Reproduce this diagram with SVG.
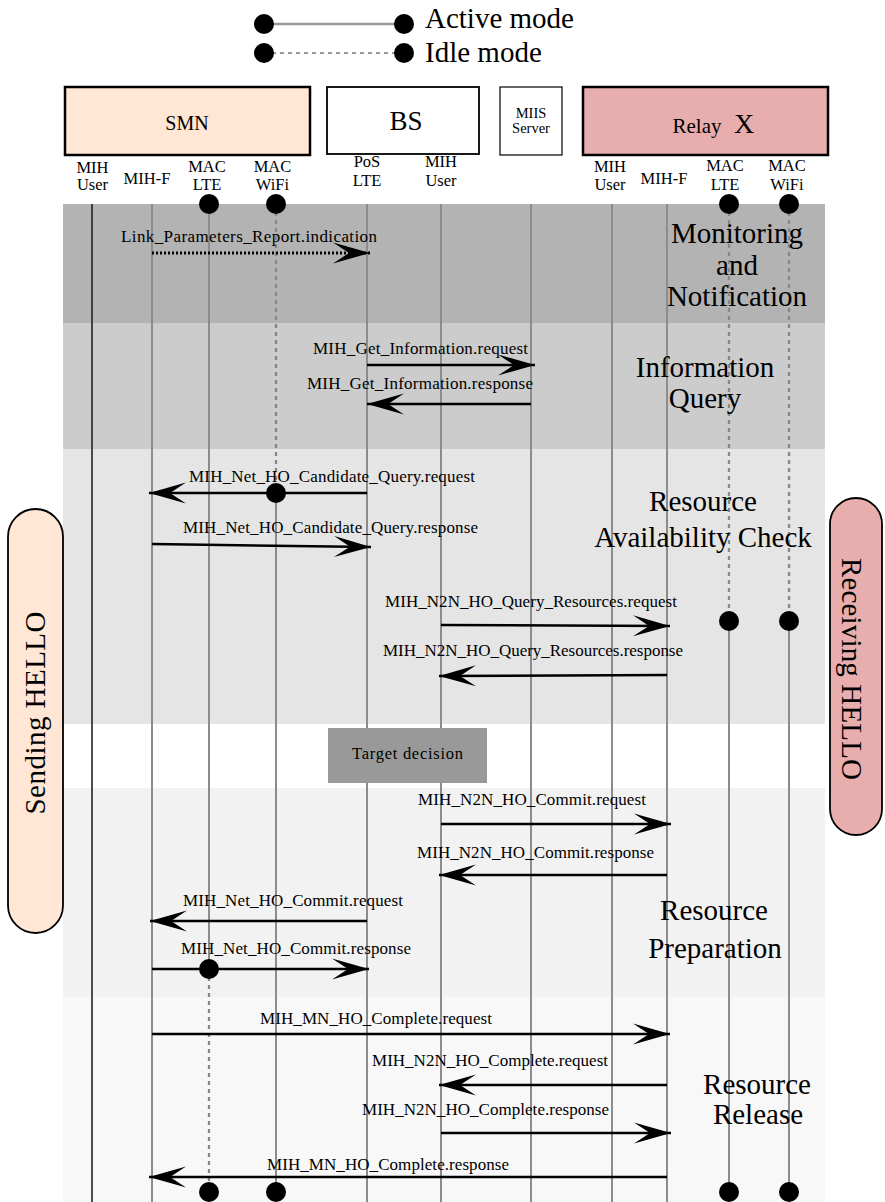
<svg xmlns="http://www.w3.org/2000/svg" width="885" height="1202" viewBox="0 0 885 1202">
<style>
text{font-family:"Liberation Serif","Times New Roman",serif;fill:#000}
.lg{font-size:29px}
.hd{font-size:16.5px;text-anchor:middle}
.msg{font-size:17px;text-anchor:middle}
.sec{font-size:29px;text-anchor:middle}
.life{stroke:#8c8c8c;stroke-width:2;fill:none}
.idle{stroke:#888;stroke-width:2.3;stroke-dasharray:4 4;fill:none}
.arr{stroke:#000;stroke-width:2.5;fill:none;marker-end:url(#stealth)}
.dotted{stroke:#000;stroke-width:3;stroke-dasharray:2 2;fill:none;marker-end:url(#stealth)}
.dot{fill:#000}
.box{stroke:#000}
</style>
<defs>
<marker id="stealth" markerUnits="userSpaceOnUse" viewBox="-38 -12 40 24" refX="0" refY="0" markerWidth="40" markerHeight="24" orient="auto">
<path d="M0,0 L-37,-10.5 L-21,0 L-37,10.5 Z" fill="#000"/>
</marker>
</defs>

<g id="legend">
<line x1="264" y1="24" x2="404" y2="24" stroke="#999" stroke-width="2.5"/>
<circle class="dot" cx="264" cy="24" r="10"/>
<circle class="dot" cx="404" cy="24" r="10"/>
<text class="lg" x="425" y="28">Active mode</text>
<line x1="264" y1="53" x2="404" y2="53" stroke="#999" stroke-width="2.2" stroke-dasharray="4 4"/>
<circle class="dot" cx="264" cy="53" r="10"/>
<circle class="dot" cx="404" cy="53" r="10"/>
<text class="lg" x="425" y="62">Idle mode</text>
</g>

<g id="phases">
<rect x="63" y="204" width="762" height="119" fill="#b3b3b3"/>
<rect x="63" y="323" width="762" height="126" fill="#cccccc"/>
<rect x="63" y="449" width="762" height="275" fill="#e5e5e5"/>
<rect x="63" y="788" width="762" height="209" fill="#f2f2f2"/>
<rect x="63" y="997" width="762" height="205" fill="#f8f8f8"/>
</g>

<g id="node-smn">
<rect class="box" x="65" y="87" width="245" height="68" fill="#ffe6d5" stroke-width="2.5"/>
<text x="187" y="130" font-size="20" text-anchor="middle">SMN</text>
<text class="hd" x="92.5" y="173">MIH</text><text class="hd" x="92.5" y="190">User</text>
<text class="hd" x="147" y="184">MIH-F</text>
<text class="hd" x="207" y="172">MAC</text><text class="hd" x="207" y="190">LTE</text>
<text class="hd" x="272.5" y="172">MAC</text><text class="hd" x="272.5" y="190">WiFi</text>
</g>

<g id="node-bs">
<rect class="box" x="327" y="87" width="152" height="67" fill="#fff" stroke-width="1.8"/>
<text x="406" y="130" font-size="27" text-anchor="middle">BS</text>
<text class="hd" x="367" y="167">PoS</text><text class="hd" x="367" y="186">LTE</text>
<text class="hd" x="441" y="167">MIH</text><text class="hd" x="441" y="186">User</text>
</g>

<g id="node-miis">
<rect class="box" x="500" y="87" width="62" height="68" fill="#fff" stroke-width="1.2"/>
<text x="531" y="118" font-size="14.5" text-anchor="middle">MIIS</text>
<text x="531" y="133" font-size="14.5" text-anchor="middle">Server</text>
</g>

<g id="node-relay">
<rect class="box" x="583" y="87" width="245" height="68" fill="#e8aeae" stroke-width="2.5"/>
<text x="697" y="133" font-size="21" text-anchor="middle">Relay</text>
<text x="744" y="133" font-size="28" text-anchor="middle">X</text>
<text class="hd" x="610" y="172">MIH</text><text class="hd" x="610" y="190">User</text>
<text class="hd" x="664" y="184">MIH-F</text>
<text class="hd" x="725" y="171">MAC</text><text class="hd" x="725" y="190">LTE</text>
<text class="hd" x="787" y="171">MAC</text><text class="hd" x="787" y="190">WiFi</text>
</g>

<g id="lifelines">
<line x1="92" y1="204" x2="92" y2="1202" stroke="#222" stroke-width="1.6"/>
<line class="life" x1="152" y1="204" x2="152" y2="1202"/>
<line class="life" x1="209" y1="204" x2="209" y2="969"/>
<line class="idle" x1="209" y1="969" x2="209" y2="1192"/>
<line class="idle" x1="276" y1="204" x2="276" y2="493"/>
<line class="life" x1="276" y1="493" x2="276" y2="1192"/>
<line class="life" x1="367" y1="204" x2="367" y2="1202"/>
<line class="life" x1="441" y1="204" x2="441" y2="1202"/>
<line class="life" x1="531" y1="204" x2="531" y2="1202"/>
<line class="life" x1="612" y1="204" x2="612" y2="1202"/>
<line class="life" x1="667" y1="204" x2="667" y2="1202"/>
<line class="idle" x1="729" y1="204" x2="729" y2="621"/>
<line class="life" x1="729" y1="621" x2="729" y2="1192"/>
<line class="idle" x1="789" y1="204" x2="789" y2="621"/>
<line class="life" x1="789" y1="621" x2="789" y2="1192"/>
<circle class="dot" cx="209" cy="204" r="10"/>
<circle class="dot" cx="276" cy="204" r="10"/>
<circle class="dot" cx="729" cy="204" r="10"/>
<circle class="dot" cx="789" cy="204" r="10"/>
<circle class="dot" cx="729" cy="621" r="10"/>
<circle class="dot" cx="789" cy="621" r="10"/>
<circle class="dot" cx="209" cy="1192" r="10"/>
<circle class="dot" cx="276" cy="1192" r="10"/>
<circle class="dot" cx="729" cy="1192" r="10"/>
<circle class="dot" cx="789" cy="1192" r="10"/>
</g>

<g id="node-target-decision">
<rect x="328" y="728" width="159" height="55" fill="#999"/>
<text x="407.5" y="759" font-size="16.5" text-anchor="middle" textLength="111">Target decision</text>
</g>

<g id="connectors">
<line class="dotted" x1="152" y1="253" x2="370" y2="253"/>
<text class="msg" x="249" y="242" textLength="256">Link_Parameters_Report.indication</text>

<line class="arr" x1="367" y1="365" x2="535" y2="365"/>
<text class="msg" x="420.5" y="354" textLength="215">MIH_Get_Information.request</text>
<line class="arr" x1="531" y1="404" x2="367" y2="404"/>
<text class="msg" x="420" y="389" textLength="226">MIH_Get_Information.response</text>

<line class="arr" x1="367" y1="493" x2="149" y2="493"/>
<circle class="dot" cx="276" cy="493" r="10"/>
<text class="msg" x="332" y="482" textLength="286">MIH_Net_HO_Candidate_Query.request</text>
<line class="arr" x1="152" y1="544" x2="371" y2="547"/>
<text class="msg" x="330.5" y="533" textLength="295">MIH_Net_HO_Candidate_Query.response</text>

<line class="arr" x1="441" y1="625" x2="670" y2="626"/>
<text class="msg" x="531" y="607" textLength="292">MIH_N2N_HO_Query_Resources.request</text>
<line class="arr" x1="667" y1="675" x2="439" y2="676"/>
<text class="msg" x="533" y="656" textLength="300">MIH_N2N_HO_Query_Resources.response</text>

<line class="arr" x1="441" y1="824" x2="671" y2="824"/>
<text class="msg" x="532" y="805" textLength="228">MIH_N2N_HO_Commit.request</text>
<line class="arr" x1="667" y1="875" x2="439" y2="875"/>
<text class="msg" x="535.5" y="858" textLength="237">MIH_N2N_HO_Commit.response</text>
<line class="arr" x1="367" y1="921" x2="150" y2="921"/>
<text class="msg" x="293" y="906" textLength="220">MIH_Net_HO_Commit.request</text>
<line class="arr" x1="152" y1="969" x2="369" y2="969"/>
<circle class="dot" cx="209" cy="969" r="10"/>
<text class="msg" x="296" y="954" textLength="230">MIH_Net_HO_Commit.response</text>

<line class="arr" x1="152" y1="1034" x2="670" y2="1034"/>
<text class="msg" x="376" y="1024" textLength="232">MIH_MN_HO_Complete.request</text>
<line class="arr" x1="667" y1="1085" x2="439" y2="1085"/>
<text class="msg" x="490" y="1066" textLength="236">MIH_N2N_HO_Complete.request</text>
<line class="arr" x1="441" y1="1133" x2="671" y2="1133"/>
<text class="msg" x="485.5" y="1115" textLength="247">MIH_N2N_HO_Complete.response</text>
<line class="arr" x1="667" y1="1177" x2="149" y2="1177"/>
<text class="msg" x="388" y="1170" textLength="242">MIH_MN_HO_Complete.response</text>
</g>

<g id="phase-labels">
<text class="sec" x="737" y="243">Monitoring</text>
<text class="sec" x="737" y="275">and</text>
<text class="sec" x="737" y="306">Notification</text>
<text class="sec" x="705" y="377">Information</text>
<text class="sec" x="705" y="408">Query</text>
<text class="sec" x="703" y="511">Resource</text>
<text class="sec" x="703" y="547">Availability Check</text>
<text class="sec" x="714" y="920">Resource</text>
<text class="sec" x="715" y="958">Preparation</text>
<text class="sec" x="757" y="1094">Resource</text>
<text class="sec" x="758" y="1124">Release</text>
</g>

<g id="node-sending-hello">
<rect x="8" y="509" width="55" height="424" rx="27.5" fill="#ffe6d5" stroke="#000" stroke-width="1.8"/>
<text transform="translate(45,713) rotate(-90)" font-size="29" text-anchor="middle" textLength="203">Sending HELLO</text>
</g>

<g id="node-receiving-hello">
<rect x="830" y="498" width="52" height="337" rx="26" fill="#e8aeae" stroke="#000" stroke-width="1.8"/>
<text transform="translate(842,669) rotate(90)" font-size="29" text-anchor="middle" textLength="222">Receiving HELLO</text>
</g>
</svg>
